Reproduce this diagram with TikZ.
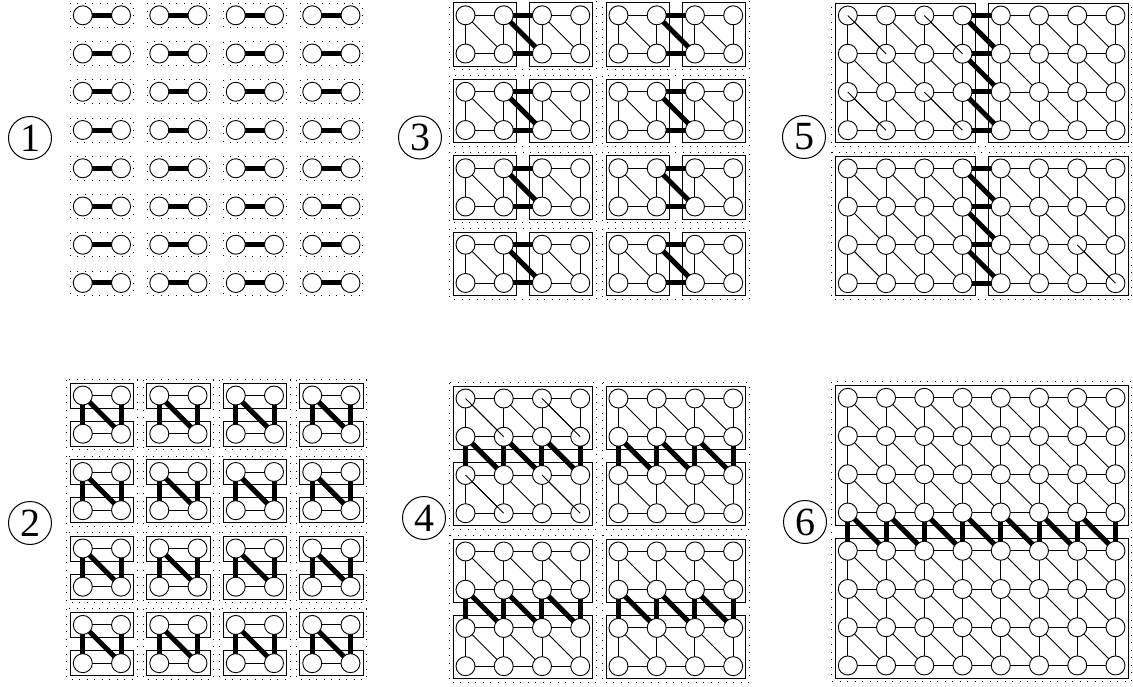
\documentclass[tikz,border=0pt]{standalone}
\usepackage{fontspec}
\setmainfont{Liberation Serif}
\pgfdeclarelayer{boxes}
\pgfdeclarelayer{edges}
\pgfdeclarelayer{top}
\pgfsetlayers{boxes,edges,main,top}
\tikzset{
  vtx/.style={circle, draw, fill=white, minimum size=19pt, inner sep=0pt, line width=0.9pt},
  thinedge/.style={line width=0.9pt},
  thickedge/.style={line width=5pt},
  dotbox/.style={line width=0.9pt, dash pattern=on 0.9pt off 6.6pt},
  solidbox/.style={line width=0.9pt},
  labelc/.style={circle, draw, line width=1pt, minimum size=43pt, inner sep=0pt, font=\fontsize{40}{40}\selectfont},
}
\def\sp{38.24}
% boxes of level #1, style #2, margin #3
\newcommand{\blockboxes}[3]{%
  \pgfmathtruncatemacro\bw{2^ceil(#1/2)}%
  \pgfmathtruncatemacro\bh{2^floor(#1/2)}%
  \pgfmathtruncatemacro\nbx{8/\bw-1}%
  \pgfmathtruncatemacro\nby{8/\bh-1}%
  \foreach \bx in {0,...,\nbx}{\foreach \by in {0,...,\nby}{%
    \draw[#2] ({\px+\bx*\bw*\sp-#3},{\py+\by*\bh*\sp-#3}) rectangle ({\px+(\bx*\bw+\bw-1)*\sp+#3},{\py+(\by*\bh+\bh-1)*\sp+#3});
  }}}
\newcommand{\edgeat}[3]{%
  \ifnum#1<\pk\relax \draw[thinedge] (#2.center) -- (#3.center);\else
  \ifnum#1=\pk\relax \draw[thickedge] (#2.center) -- (#3.center);\fi\fi}
% panel #1 level, #2 x0, #3 y0, #4 dotted margin
\newcommand{\drawpanel}[4]{%
  \def\pk{#1}\def\px{#2}\def\py{#3}%
  \begin{pgfonlayer}{boxes}
    \blockboxes{#1}{dotbox}{#4}
    \ifnum#1>1 \pgfmathtruncatemacro\lm{#1-1}\blockboxes{\lm}{solidbox}{12.5}\fi
  \end{pgfonlayer}
  \foreach \i in {0,...,7}{\foreach \j in {0,...,7}{%
    \node[vtx] (p#1-\i-\j) at ({\px+\i*\sp},{\py+\j*\sp}) {};}}
  \begin{pgfonlayer}{edges}
    \foreach \i in {0,...,6}{\foreach \j in {0,...,7}{%
      \pgfmathtruncatemacro\ii{\i+1}%
      \pgfmathtruncatemacro\lv{ifthenelse(mod(\i,2)==0,1,ifthenelse(\i==3,5,3))}%
      \edgeat{\lv}{p#1-\i-\j}{p#1-\ii-\j}}}
    \foreach \i in {0,...,7}{\foreach \j in {0,...,6}{%
      \pgfmathtruncatemacro\jj{\j+1}%
      \pgfmathtruncatemacro\lv{ifthenelse(mod(\j,2)==0,2,ifthenelse(\j==3,6,4))}%
      \edgeat{\lv}{p#1-\i-\j}{p#1-\i-\jj}}}
    \foreach \i in {0,...,6}{\foreach \j in {0,...,6}{%
      \pgfmathtruncatemacro\ii{\i+1}%
      \pgfmathtruncatemacro\jj{\j+1}%
      \pgfmathtruncatemacro\lc{ifthenelse(mod(\i,2)==0,1,ifthenelse(\i==3,5,3))}%
      \pgfmathtruncatemacro\lr{ifthenelse(mod(\j,2)==0,2,ifthenelse(\j==3,6,4))}%
      \pgfmathtruncatemacro\lv{max(\lc,\lr)}%
      \edgeat{\lv}{p#1-\i-\j}{p#1-\ii-\jj}}}
  \end{pgfonlayer}
}
\newcommand{\topdiag}[3]{% panel, i, j
  \pgfmathtruncatemacro\ii{#2+1}\pgfmathtruncatemacro\jj{#3+1}%
  \begin{pgfonlayer}{top}\draw[thinedge] (p#1-#2-#3.center) -- (p#1-\ii-\jj.center);\end{pgfonlayer}}
\begin{document}
\begin{tikzpicture}[x=1pt,y=-1pt]
\useasboundingbox (0,0) rectangle (1133,687);
\drawpanel{1}{82.8}{15.3}{12}
\drawpanel{3}{465.5}{15.3}{16}
\drawpanel{5}{847.8}{15.5}{16}
\drawpanel{2}{82.8}{395.5}{16}
\drawpanel{4}{465.5}{398.5}{16}
\drawpanel{6}{847.8}{397.8}{16}
\foreach \a/\b in {0/0,2/0,0/2,2/2}{\topdiag{4}{\a}{\b}\topdiag{5}{\a}{\b}}
\topdiag{5}{6}{6}
\node[labelc] (n1) at (30,138) {1};
\node[labelc] (n3) at (420,137.5) {3};
\node[labelc] (n5) at (804,137) {5};
\node[labelc] (n2) at (30,523) {2};
\node[labelc] (n4) at (424,518) {4};
\node[labelc] (n6) at (805,522) {6};
\end{tikzpicture}
\end{document}
